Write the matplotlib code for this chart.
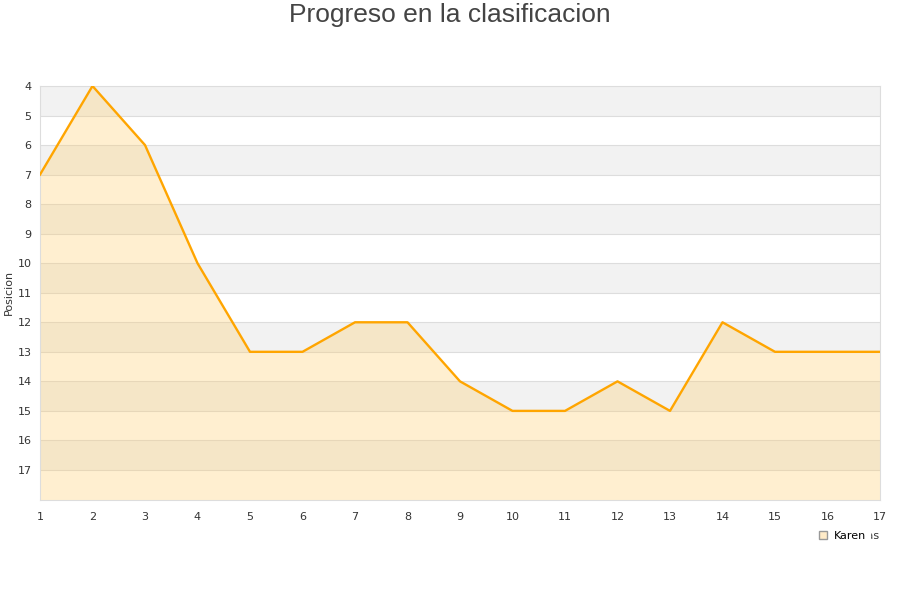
import numpy as np
import matplotlib.pyplot as plt

jornadas = list(range(1, 18))
posicion = [7, 4, 6, 10, 13, 13, 12, 12, 14, 15, 15, 14, 15, 12, 13, 13, 13]
yticks = list(range(4, 18))

fig = plt.figure(figsize=(9, 6), dpi=100)
ax = fig.add_axes([40/900, 1 - 499.5/600, 840/900, 413.5/600])

# bandas alternas
for y0 in range(4, 18, 2):
    ax.axhspan(y0, y0 + 1, color='#f2f2f2', zorder=0, lw=0)
for y in range(5, 18):
    ax.axhline(y, color='#dddddd', lw=0.8, zorder=1)

ax.fill_between(jornadas, posicion, 18, color='#ffcc66', alpha=0.3, lw=0, zorder=2)
ax.plot(jornadas, posicion, color='#ffa500', lw=1.7, label='Karen', zorder=3)

ax.set_xlim(1, 17)
ax.set_ylim(18, 4)
ax.set_xticks(jornadas)
ax.set_yticks(yticks)
ax.tick_params(length=0, labelsize=8, colors='#333333', pad=6)
ax.tick_params(axis='x', pad=9)
for s in ax.spines.values():
    s.set_color('#dddddd')

ax.set_ylabel('Posicion', fontsize=8, color='#333333')
ax.yaxis.set_label_coords(-26/840, 0.5)
ax.set_xlabel('Jornadas', fontsize=8, color='#333333')
ax.xaxis.set_label_coords(1.0, -0.075)
ax.xaxis.label.set_horizontalalignment('right')

fig.suptitle('Progreso en la clasificacion', fontsize=19, color='#444444',
             y=0.995, x=0.5, va='top', fontfamily='Liberation Sans')

h = plt.Line2D([], [], marker='s', ls='', markersize=6,
               markerfacecolor='#ffebc8', markeredgecolor='#999999')
leg = fig.legend([h], ['Karen'], loc='center', bbox_to_anchor=(842/900, 1 - 536/600),
                 frameon=True, fontsize=8, handletextpad=0.5, borderpad=0.3,
                 handlelength=1)
leg.get_frame().set_edgecolor('white')
leg.get_frame().set_facecolor('white')
leg.get_frame().set_alpha(1)

plt.savefig('out.png')
